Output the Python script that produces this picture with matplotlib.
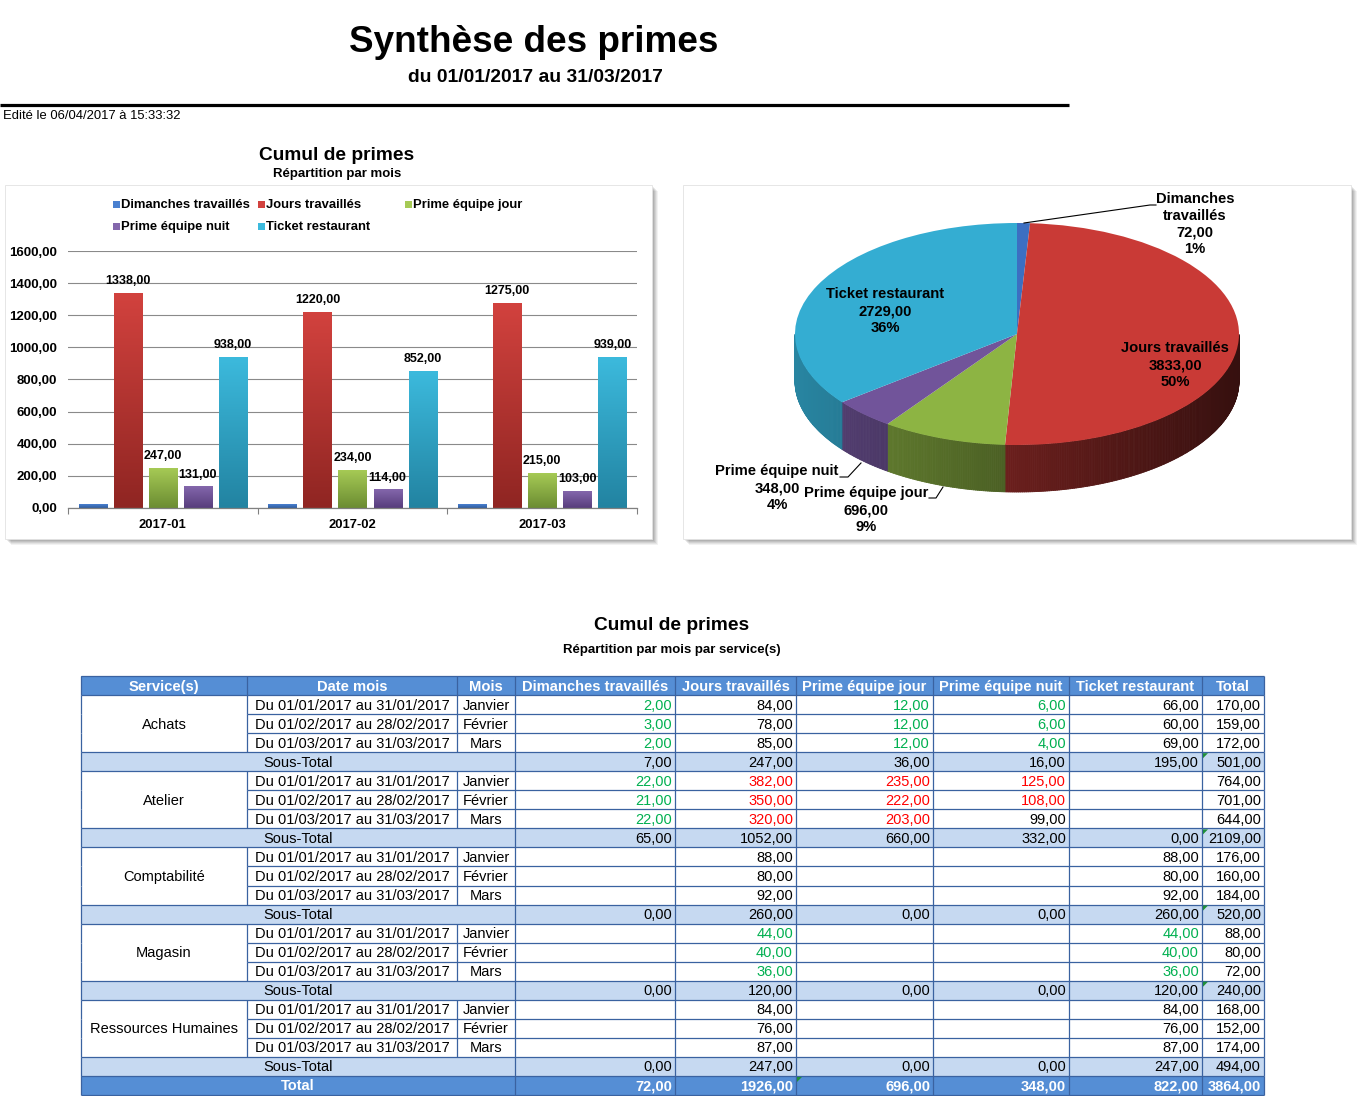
import numpy as np
import matplotlib
matplotlib.use("Agg")
import matplotlib.pyplot as plt
from matplotlib.patches import Rectangle, Polygon
from matplotlib.collections import PolyCollection, LineCollection
from matplotlib.colors import LinearSegmentedColormap, to_rgb

plt.rcParams['font.family'] = ['Liberation Sans', 'DejaVu Sans']

# ------------------------------------------------------------------ data
months = ["2017-01", "2017-02", "2017-03"]
series_names = ["Dimanches travaillés", "Jours travaillés", "Prime équipe jour",
                "Prime équipe nuit", "Ticket restaurant"]
dimanches = [24, 24, 24]
jours = [1338, 1220, 1275]
prime_jour = [247, 234, 215]
prime_nuit = [131, 114, 103]
ticket = [938, 852, 939]
y_ticks = [0, 200, 400, 600, 800, 1000, 1200, 1400, 1600]
pie_pct = [1, 50, 9, 4, 36]

services = ["Achats", "Atelier", "Comptabilité", "Magasin", "Ressources Humaines"]
dates = ["Du 01/01/2017 au 31/01/2017", "Du 01/02/2017 au 28/02/2017",
         "Du 01/03/2017 au 31/03/2017"]
mois = ["Janvier", "Février", "Mars"]
headers = ["Service(s)", "Date mois", "Mois", "Dimanches travaillés", "Jours travaillés",
           "Prime équipe jour", "Prime équipe nuit", "Ticket restaurant", "Total"]
N = None
tab_dim = [[2, 3, 2], [22, 21, 22], [N, N, N], [N, N, N], [N, N, N]]
tab_jours = [[84, 78, 85], [382, 350, 320], [88, 80, 92], [44, 40, 36], [84, 76, 87]]
tab_pjour = [[12, 12, 12], [235, 222, 203], [N, N, N], [N, N, N], [N, N, N]]
tab_pnuit = [[6, 6, 4], [125, 108, 99], [N, N, N], [N, N, N], [N, N, N]]
tab_ticket = [[66, 60, 69], [N, N, N], [88, 80, 92], [44, 40, 36], [84, 76, 87]]
# font colour codes per month: g = green, r = red, k = black
col_dim = ["ggg", "ggg", "kkk", "kkk", "kkk"]
col_jours = ["kkk", "rrr", "kkk", "ggg", "kkk"]
col_pjour = ["ggg", "rrr", "kkk", "kkk", "kkk"]
col_pnuit = ["ggg", "rrk", "kkk", "kkk", "kkk"]
col_ticket = ["kkk", "kkk", "kkk", "ggg", "kkk"]

# ------------------------------------------------------------------ styles
W, H, DPI = 1367, 1096, 100
bar_light = ['#4A80D0', '#D2423E', '#A6CA55', '#8467AC', '#3CBADD']
bar_dark = ['#2F5C9E', '#8F2522', '#6B8C32', '#573D7C', '#2283A1']
pie_colors = ['#3C6FC2', '#C93A36', '#8DB443', '#71549A', '#34ADD2']


def fmt(v):
    return f"{v:.2f}".replace('.', ',')


def fbox(x0, y0, x1, y1):
    return [x0 / W, 1 - y1 / H, (x1 - x0) / W, (y1 - y0) / H]


fig = plt.figure(figsize=(W / DPI, H / DPI), dpi=DPI)
fig.patch.set_facecolor('white')
ov = fig.add_axes([0, 0, 1, 1], zorder=0)
ov.set_xlim(0, W)
ov.set_ylim(H, 0)
ov.axis('off')

# ------------------------------------------------------------------ header
ov.text(534, 43, "Synthèse des primes", ha='center', va='center', fontsize=26.6,
        fontweight='bold')
ov.text(535, 78, "du 01/01/2017 au 31/03/2017", ha='center', va='center',
        fontsize=13.9, fontweight='bold')
ov.plot([0, 1069], [105, 105], color='black', lw=2.3, solid_capstyle='butt')
ov.text(3, 116, "Edité le 06/04/2017 à 15:33:32", ha='left', va='center', fontsize=9.4)


def panel(x0, y0, x1, y1):
    for off, a in [(6, 0.05), (5, 0.06), (4, 0.07), (3, 0.08), (2, 0.08)]:
        ov.add_patch(Rectangle((x0 + off, y0 + off), x1 - x0, y1 - y0, fc='black',
                               alpha=a, lw=0, zorder=0.1))
    ov.add_patch(Rectangle((x0, y0), x1 - x0, y1 - y0, fc='white', ec='#e2e2e2',
                           lw=0.6, zorder=0.5))


panel(5, 185, 652, 539)
panel(683, 185, 1351, 539)

ov.text(337, 155, "Cumul de primes", ha='center', va='center', fontsize=13.8,
        fontweight='bold')
ov.text(337, 174.5, "Répartition par mois", ha='center', va='center', fontsize=9.5,
        fontweight='bold')

# legend
leg_pos = [(116, 205), (261, 205), (408, 205), (116, 227), (261, 227)]
for (lx, ly), name, c in zip(leg_pos, series_names, bar_light):
    ov.add_patch(Rectangle((lx - 3.5, ly - 4), 7, 7, fc=c, lw=0, zorder=1))
    ov.text(lx + 5, ly, name, ha='left', va='center', fontsize=9.4, fontweight='bold',
            zorder=1)

# ------------------------------------------------------------------ bar chart
bx = fig.add_axes(fbox(68, 251, 637, 508), zorder=1)
bx.patch.set_alpha(0)
x = np.arange(len(months))
step, width = 0.185, 0.148
all_series = [dimanches, jours, prime_jour, prime_nuit, ticket]
grad = np.linspace(1, 0, 256).reshape(-1, 1)
for i, vals in enumerate(all_series):
    rects = bx.bar(x + (i - 2) * step, vals, width, color='none', lw=0, zorder=3)
    cmap = LinearSegmentedColormap.from_list(f"g{i}", [bar_dark[i], bar_light[i]])
    for r, v in zip(rects, vals):
        bx.imshow(grad, cmap=cmap, aspect='auto', origin='upper', zorder=2.5,
                  extent=[r.get_x(), r.get_x() + r.get_width(), 0, r.get_height()],
                  vmin=0, vmax=1)
        if i > 0:
            bx.annotate(fmt(v), (r.get_x() + r.get_width() / 2, r.get_height()),
                        xytext=(0, 4.3), textcoords='offset points', ha='center',
                        va='bottom', fontsize=9, fontweight='bold', zorder=4)
bx.set_xlim(-0.5, 2.5)
bx.set_ylim(0, 1600)
bx.set_yticks(y_ticks)
bx.set_yticklabels([fmt(v) for v in y_ticks], fontsize=9.5, fontweight='bold')
bx.set_xticks(x)
bx.set_xticklabels(months, fontsize=9.4, fontweight='bold')
bx.set_xticks([-0.5, 0.5, 1.5, 2.5], minor=True)
bx.tick_params(axis='y', length=0, pad=8)
bx.tick_params(axis='x', which='major', length=0, pad=8)
bx.tick_params(axis='x', which='minor', length=4, color='#808080', width=0.8)
bx.yaxis.grid(True, color='#8a8a8a', lw=0.8)
bx.set_axisbelow(True)
for s in ['top', 'left', 'right']:
    bx.spines[s].set_visible(False)
bx.spines['bottom'].set_color('#808080')
bx.spines['bottom'].set_linewidth(0.9)

# ------------------------------------------------------------------ pie chart (pseudo 3D)
cx, cy, rx, ry, dep = 1017, 334, 222, 111, 47
px0, py0, px1, py1 = 785, 214, 1249, 502
px = fig.add_axes(fbox(px0, py0, px1, py1), zorder=1)
px.patch.set_alpha(0)
pie_vals = [sum(s) for s in all_series]
wedges, _ = px.pie(pie_vals, colors=pie_colors, startangle=90, counterclock=False,
                   wedgeprops=dict(linewidth=0))
depth = dep / ry
polys, pcols = [], []
for w, c in zip(wedges, pie_colors):
    w.set_zorder(3)
    base = np.array(to_rgb(c))
    n = max(int(abs(w.theta2 - w.theta1) * 2), 2)
    ts = np.linspace(w.theta1, w.theta2, n)
    for a, b in zip(ts[:-1], ts[1:]):
        m = np.deg2rad((a + b) / 2)
        if np.sin(m) > 0:
            continue
        ra, rb = np.deg2rad(a), np.deg2rad(b)
        quad = [(np.cos(ra), np.sin(ra)), (np.cos(rb), np.sin(rb)),
                (np.cos(rb), np.sin(rb) - depth), (np.cos(ra), np.sin(ra) - depth)]
        f = 0.52 - 0.25 * np.cos(m)
        polys.append(quad)
        pcols.append(np.clip(base * f, 0, 1))
px.add_collection(PolyCollection(polys, facecolors=pcols, edgecolors=pcols,
                                 linewidths=0.6, zorder=1))
px.set_aspect('auto')
px.set_xlim((px0 - cx) / rx, (px1 - cx) / rx)
px.set_ylim(-(py1 - cy) / ry, (cy - py0) / ry)
px.axis('off')

# overlay on top of the pie for its labels
top_ov = fig.add_axes([0, 0, 1, 1], zorder=2)
top_ov.set_xlim(0, W)
top_ov.set_ylim(H, 0)
top_ov.axis('off')
top_ov.patch.set_alpha(0)

pie_label_pos = [(1195, 199), (1175, 348.5), (866, 493.5), (777, 471.5), (885, 294.5)]
pie_label_names = [["Dimanches", "travaillés"], ["Jours travaillés"], ["Prime équipe jour"],
                   ["Prime équipe nuit"], ["Ticket restaurant"]]
for (lx, ly), name, v, p in zip(pie_label_pos, pie_label_names, pie_vals, pie_pct):
    lines = name + [fmt(v), f"{p}%"]
    for k, ln in enumerate(lines):
        top_ov.text(lx, ly + k * 16.8, ln, ha='center', va='center', fontsize=10.6,
                    fontweight='bold')
top_ov.plot([1156, 1150, 1024], [205, 205, 223], color='black', lw=0.8)
top_ov.plot([840, 848, 861], [477, 477, 463], color='black', lw=0.8)
top_ov.plot([929, 936, 943], [498, 498, 487], color='black', lw=0.8)

# ------------------------------------------------------------------ table
ov.text(672, 625.5, "Cumul de primes", ha='center', va='center', fontsize=13.8,
        fontweight='bold')
ov.text(672, 650, "Répartition par mois par service(s)", ha='center', va='center',
        fontsize=9.5, fontweight='bold')

cols_x = [81, 247, 457, 515, 675, 796, 933, 1069, 1202, 1264]
top, bottom = 676, 1095
data_cols = [tab_dim, tab_jours, tab_pjour, tab_pnuit, tab_ticket]
color_cols = [col_dim, col_jours, col_pjour, col_pnuit, col_ticket]
CG = {'g': '#00B050', 'r': '#FF0000', 'k': 'black'}
HDR = '#558ED5'
STF = '#C6D9F1'
LC = '#3A62A0'

rows = []
for s in range(len(services)):
    for m in range(3):
        vals = [tab[s][m] for tab in data_cols]
        vals.append(sum(v for v in vals if v is not None))
        clr = [cc[s][m] for cc in color_cols] + ['k']
        rows.append(('data', s, m, vals, clr))
    st = [sum(v or 0 for v in tab[s]) for tab in data_cols]
    st.append(sum(st))
    rows.append(('st', s, None, st, ['k'] * 6))
grand = [sum(r[3][j] for r in rows if r[0] == 'st') for j in range(6)]
rows.append(('tot', None, None, grand, ['w'] * 6))

nrows = len(rows) + 1
rh = (bottom - top) / nrows
full_w = cols_x[-1] - cols_x[0]

ov.add_patch(Rectangle((cols_x[0], top), full_w, rh, fc=HDR, lw=0))
for j, h in enumerate(headers):
    ov.text((cols_x[j] + cols_x[j + 1]) / 2, top + rh / 2 + 1, h, ha='center',
            va='center', color='white', fontweight='bold', fontsize=10.6)

for i, (kind, s, m, vals, clr) in enumerate(rows):
    yt = top + (i + 1) * rh
    yc = yt + rh / 2 + 1
    if kind in ('st', 'tot'):
        ov.add_patch(Rectangle((cols_x[0], yt), full_w, rh,
                               fc=STF if kind == 'st' else HDR, lw=0))
        lab = "Sous-Total" if kind == 'st' else "Total"
        ov.text((cols_x[0] + cols_x[3]) / 2, yc, lab, ha='center', va='center',
                fontsize=10.5, color='black' if kind == 'st' else 'white',
                fontweight='normal' if kind == 'st' else 'bold')
        for j, v in enumerate(vals):
            ov.text(cols_x[j + 4] - 3, yc, fmt(v), ha='right', va='center',
                    fontsize=10.5, color='black' if kind == 'st' else 'white',
                    fontweight='normal' if kind == 'st' else 'bold')
    else:
        if m == 1:
            ov.text((cols_x[0] + cols_x[1]) / 2, yc, services[s], ha='center',
                    va='center', fontsize=10.5)
        ov.text((cols_x[1] + cols_x[2]) / 2, yc, dates[m], ha='center', va='center',
                fontsize=10.5)
        ov.text((cols_x[2] + cols_x[3]) / 2, yc, mois[m], ha='center', va='center',
                fontsize=10.5)
        for j, (v, c) in enumerate(zip(vals, clr)):
            if v is None:
                continue
            ov.text(cols_x[j + 4] - 3, yc, fmt(v), ha='right', va='center',
                    fontsize=10.5, color=CG[c])

# grid lines
kinds = ['hdr'] + [r[0] for r in rows]
svc = [None] + [r[1] for r in rows]
segs = []
for k in range(nrows + 1):
    y = top + k * rh
    if 0 < k < nrows and kinds[k - 1] == 'data' and kinds[k] == 'data' and svc[k - 1] == svc[k]:
        segs.append([(cols_x[1], y), (cols_x[-1], y)])
    else:
        segs.append([(cols_x[0], y), (cols_x[-1], y)])
for r in range(nrows):
    y0, y1 = top + r * rh, top + (r + 1) * rh
    for xb in cols_x:
        if kinds[r] in ('st', 'tot') and xb in (cols_x[1], cols_x[2]):
            continue
        segs.append([(xb, y0), (xb, y1)])
ov.add_collection(LineCollection(segs, colors=LC, linewidths=0.9, zorder=3))

# small green comment markers
marks = []
for i, r in enumerate(rows):
    if r[0] == 'st' and r[1] < 4:
        marks.append((cols_x[8], top + (i + 1) * rh))
    if r[0] == 'tot':
        marks.append((cols_x[5], top + (i + 1) * rh))
for mx, my in marks:
    ov.add_patch(Polygon([(mx + 1, my + 1), (mx + 6, my + 1), (mx + 1, my + 6)],
                         closed=True, fc='#1F8F3A', lw=0, zorder=4))

fig.savefig("out.png", dpi=DPI, facecolor='white')
